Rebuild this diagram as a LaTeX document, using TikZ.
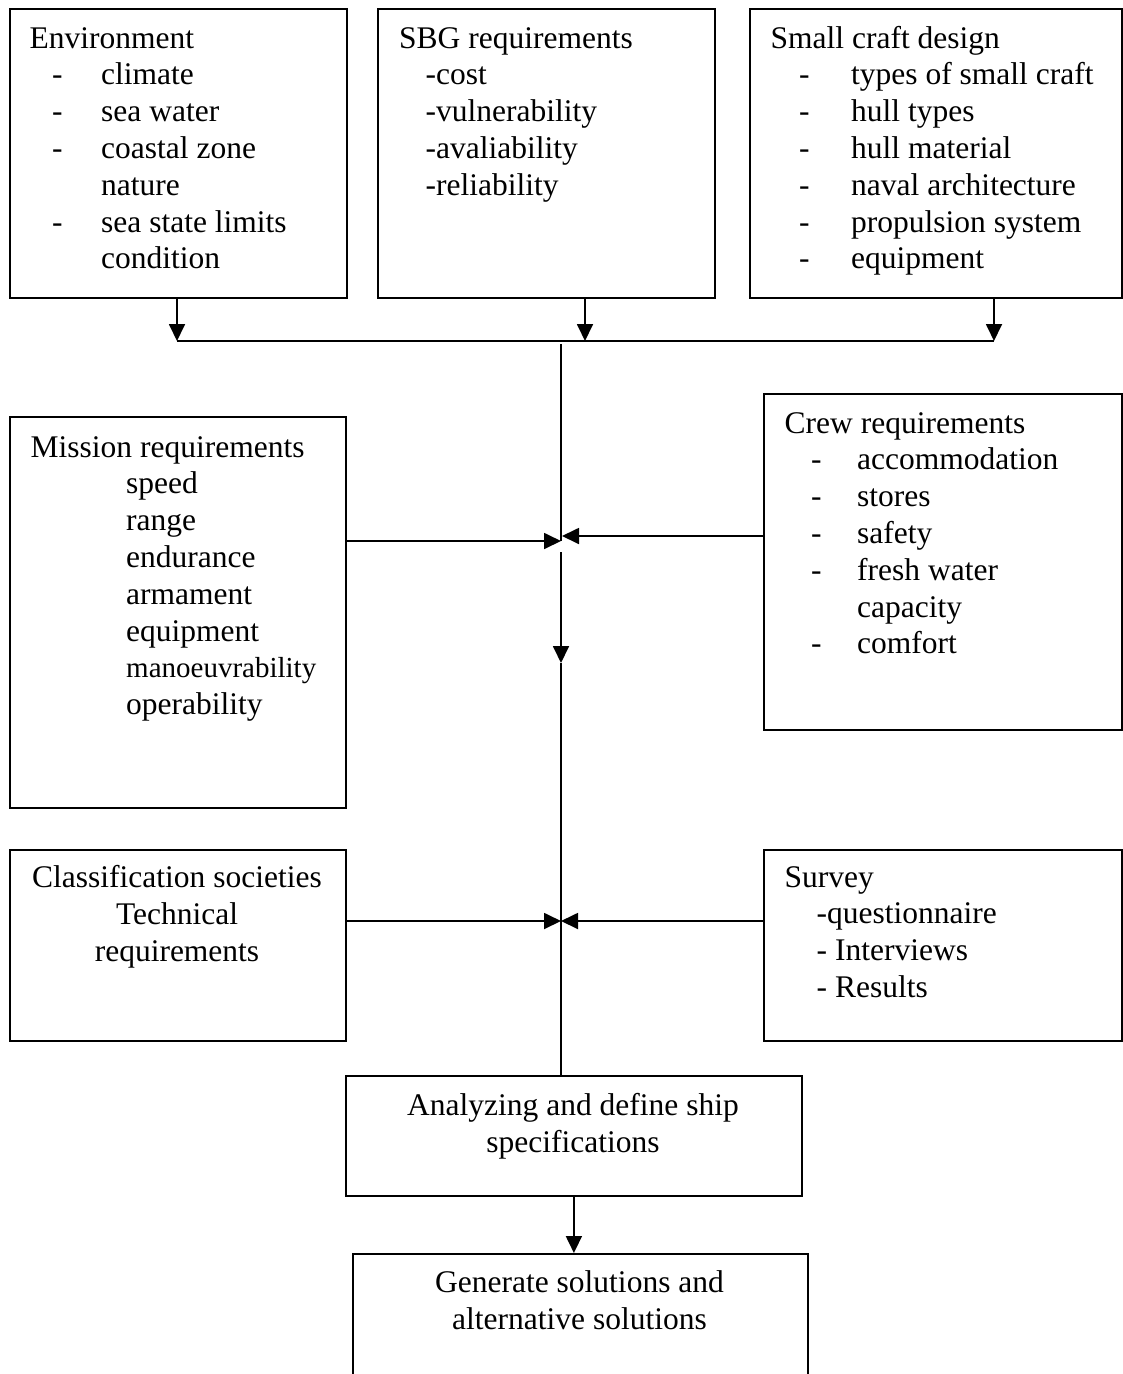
\documentclass[tikz,border=0pt]{standalone}
\usepackage{fontspec}
\setmainfont{Liberation Serif}
\usetikzlibrary{arrows.meta}

% one list row with a leading dash, and one row without
\newcommand\dashrow[3]{\hspace*{#1}\makebox[#2][l]{-}#3}
\newcommand\plainrow[2]{\hspace*{#1}#2}

\begin{document}
\begin{tikzpicture}[x=1pt,y=-1pt,
  box/.style={draw, line width=1.8pt, rectangle, inner sep=0pt, anchor=north west},
  txt/.style={inner sep=0pt, anchor=base west, font=\fontsize{31.5}{36.8}\selectfont},
  ctxt/.style={inner sep=0pt, anchor=base, font=\fontsize{31.5}{37.2}\selectfont},
  link/.style={line width=1.8pt},
  arr/.style={line width=1.8pt, -{Triangle[length=17pt,width=16pt]}}]

\useasboundingbox (0,0) rectangle (1123,1374);
\clip (0,0) rectangle (1123,1374);

% ---- boxes ----
\node[box, minimum width=337pt, minimum height=289pt] (env)  at (9,8)     {};
\node[box, minimum width=337pt, minimum height=289pt] (sbg)  at (377,8)   {};
\node[box, minimum width=372pt, minimum height=289pt] (scd)  at (749,8)   {};
\node[box, minimum width=336pt, minimum height=391pt] (mis)  at (9,416)   {};
\node[box, minimum width=358pt, minimum height=336pt] (crew) at (763,393) {};
\node[box, minimum width=336pt, minimum height=191pt] (cls)  at (9,849)   {};
\node[box, minimum width=358pt, minimum height=191pt] (srv)  at (763,849) {};
\node[box, minimum width=456pt, minimum height=120pt] (ana)  at (345,1075){};
\node[box, minimum width=455pt, minimum height=160pt] (gen)  at (352,1253){};

% ---- texts ----
\node[txt] (envT) at (29.5,48) {\begin{tabular}[t]{@{}l@{}}
Environment\\
\dashrow{22.5pt}{49pt}{climate}\\
\dashrow{22.5pt}{49pt}{sea water}\\
\dashrow{22.5pt}{49pt}{coastal zone}\\
\plainrow{71.5pt}{nature}\\
\dashrow{22.5pt}{49pt}{sea state limits}\\
\plainrow{71.5pt}{condition}
\end{tabular}};

\node[txt] (sbgT) at (399,48) {\begin{tabular}[t]{@{}l@{}}
SBG requirements\\
\plainrow{26.5pt}{-cost}\\
\plainrow{26.5pt}{-vulnerability}\\
\plainrow{26.5pt}{-avaliability}\\
\plainrow{26.5pt}{-reliability}
\end{tabular}};

\node[txt] (scdT) at (770.5,48) {\begin{tabular}[t]{@{}l@{}}
Small craft design\\
\dashrow{28.5pt}{52pt}{types of small craft}\\
\dashrow{28.5pt}{52pt}{hull types}\\
\dashrow{28.5pt}{52pt}{hull material}\\
\dashrow{28.5pt}{52pt}{naval architecture}\\
\dashrow{28.5pt}{52pt}{propulsion system}\\
\dashrow{28.5pt}{52pt}{equipment}
\end{tabular}};

\node[txt] (misT) at (30.5,457) {\begin{tabular}[t]{@{}l@{}}
Mission requirements\\
\plainrow{95.5pt}{speed}\\
\plainrow{95.5pt}{range}\\
\plainrow{95.5pt}{endurance}\\
\plainrow{95.5pt}{armament}\\
\plainrow{95.5pt}{equipment}\\
\plainrow{95.5pt}{{\fontsize{29}{36.8}\selectfont manoeuvrability}}\\
\plainrow{95.5pt}{operability}
\end{tabular}};

\node[txt] (crewT) at (784.5,433) {\begin{tabular}[t]{@{}l@{}}
Crew requirements\\
\dashrow{26.5pt}{46pt}{accommodation}\\
\dashrow{26.5pt}{46pt}{stores}\\
\dashrow{26.5pt}{46pt}{safety}\\
\dashrow{26.5pt}{46pt}{fresh water}\\
\plainrow{72.5pt}{capacity}\\
\dashrow{26.5pt}{46pt}{comfort}
\end{tabular}};

\node[ctxt] (clsT) at (177,887) {\begin{tabular}[t]{@{}c@{}}
Classification societies\\
Technical\\
requirements
\end{tabular}};

\node[txt] (srvT) at (784.5,887) {\begin{tabular}[t]{@{}l@{}}
Survey\\
\plainrow{32pt}{-questionnaire}\\
\plainrow{32pt}{- Interviews}\\
\plainrow{32pt}{- Results}
\end{tabular}};

\node[ctxt] (anaT) at (573,1115) {\begin{tabular}[t]{@{}c@{}}
Analyzing and define ship\\
specifications
\end{tabular}};

\node[ctxt] (genT) at (579.5,1292) {\begin{tabular}[t]{@{}c@{}}
Generate solutions and\\
alternative solutions
\end{tabular}};

% ---- junction points ----
\coordinate (busL) at (177,341);
\coordinate (busM) at (585,341);
\coordinate (busR) at (994,341);
\coordinate (trunk) at (561,344);
\coordinate (hubA) at (561,541);
\coordinate (hubB) at (562,536);
\coordinate (down1) at (561,552);
\coordinate (down2) at (561,663);
\coordinate (hubC) at (561,921);

% ---- connectors ----
\draw[arr] (env.south -| busL) -- (busL);
\draw[arr] (sbg.south -| busM) -- (busM);
\draw[arr] (scd.south -| busR) -- (busR);
\draw[link] (busL) -- (busR);

\draw[link] (trunk) -- (hubA);
\draw[arr] (mis.east |- hubA) -- (hubA);
\draw[arr] (crew.west |- hubB) -- (hubB);
\draw[arr] (down1) -- (down2);
\draw[link] (down2) -- (ana.north -| down2);

\draw[arr] (cls.east |- hubC) -- (hubC);
\draw[arr] (srv.west |- hubC) -- (hubC);

\draw[arr] (ana.south) -- (gen.north -| ana.south);
\end{tikzpicture}
\end{document}
